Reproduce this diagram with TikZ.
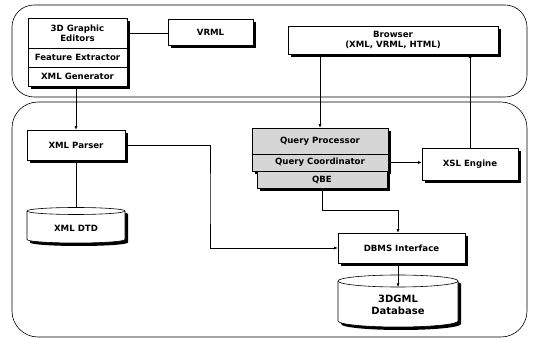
\documentclass[tikz,border=0pt]{standalone}
\usepackage{fontspec}
\setmainfont{DejaVu Sans}
\usetikzlibrary{shadows,arrows.meta}
\begin{document}
\begin{tikzpicture}[x=1pt,y=-1pt,
  txt/.style={font=\fontsize{8.6}{10}\selectfont\bfseries, align=center, inner sep=0pt},
  box/.style={draw, fill=white, line width=0.6pt, minimum width=#1, inner sep=0pt, txt,
    drop shadow={shadow xshift=3pt, shadow yshift=-3pt, fill=black, opacity=1}},
  qbox/.style={box=#1, fill=black!16},
  conn/.style={line width=0.6pt},
  arr/.style={conn, -{Latex[length=3.5pt,width=3pt]}},
  region/.style={draw, line width=0.6pt, rounded corners=22pt},
  cylsh/.style={fill=black},
  cyl/.style={draw, fill=white, line width=0.6pt}
]
\useasboundingbox (0,0) rectangle (533,339);

% regions
\draw[region] (12,5) rectangle (527,97);
\draw[region, rounded corners=26pt] (12,102) rectangle (527,337);

% 3D graphic editors stack
\node[box=99pt, minimum height=30pt] (ged1) at (77.5,33) {3D Graphic\\Editors};
\node[box=99pt, minimum height=19pt] (ged2) at (77.5,57.5) {Feature Extractor};
\node[box=99pt, minimum height=19pt] (ged3) at (77.5,76.5) {XML Generator};

\node[box=85pt, minimum height=26pt] (vrml) at (210.5,32) {VRML};
\node[box=210pt, minimum height=28pt] (browser) at (393,40) {Browser\\(XML, VRML, HTML)};

\node[box=98pt, minimum height=30pt] (xmlp) at (76,145) {XML Parser};

% query stack
\node[qbox=136pt, minimum height=26pt] (qp) at (320,141) {Query Processor};
\node[qbox=136pt, minimum height=17pt] (qc) at (320,162.5) {Query Coordinator};
\node[qbox=130pt, minimum height=17pt] (qbe) at (322,179.5) {QBE};

\node[box=96pt, minimum height=32pt] (xsl) at (470,164) {XSL Engine};
\node[box=127pt, minimum height=30pt] (dbms) at (401.5,248) {DBMS Interface};

% XML DTD cylinder
\fill[cylsh] (30,214) -- (30,242.5) arc[start angle=180,end angle=360,x radius=49pt,y radius=3.5pt]
   -- (128,214) arc[start angle=0,end angle=180,x radius=49pt,y radius=3.5pt] -- cycle;
\filldraw[cyl] (27,211) -- (27,239.5) arc[start angle=180,end angle=360,x radius=49pt,y radius=3.5pt]
   -- (125,211) arc[start angle=0,end angle=180,x radius=49pt,y radius=3.5pt] -- cycle;
\draw[conn] (27,211) arc[start angle=180,end angle=360,x radius=49pt,y radius=3.5pt];
\node[txt] (dtd) at (76,228) {XML DTD};
\coordinate (dtdtop) at (76,207.5);

% 3DGML database cylinder
\fill[cylsh] (341,284) -- (341,324) arc[start angle=180,end angle=360,x radius=60pt,y radius=6pt]
   -- (461,284) arc[start angle=0,end angle=180,x radius=60pt,y radius=6pt] -- cycle;
\filldraw[cyl] (338,281) -- (338,321) arc[start angle=180,end angle=360,x radius=60pt,y radius=6pt]
   -- (458,281) arc[start angle=0,end angle=180,x radius=60pt,y radius=6pt] -- cycle;
\draw[conn] (338,281) arc[start angle=180,end angle=360,x radius=60pt,y radius=6pt];
\node[txt, font=\fontsize{10}{12.5}\selectfont\bfseries] (db) at (398,305) {3DGML\\Database};
\coordinate (dbtop) at (398,287);

% connectors
\coordinate (j1) at (210,200);
\coordinate (j2) at (398,210);
\draw[conn] (ged1.east) -- (ged1.east -| vrml.west);
\draw[arr] (ged3.south -| xmlp.north) -- (xmlp.north);
\draw[conn] (xmlp.south) -- (dtdtop);
\draw[arr] (xmlp.east) -| (j1) |- (dbms.west);
\draw[arr] (qp.north |- browser.south) -- (qp.north);
\draw[arr] (xsl.north) -- (xsl.north |- browser.south);
\draw[arr] (qc.east) -- (qc.east -| xsl.west);
\draw[arr] (qbe.south) |- (j2) -- (j2 |- dbms.north);
\draw[arr] (j2 |- dbms.south) -- (dbtop);
\end{tikzpicture}
\end{document}
